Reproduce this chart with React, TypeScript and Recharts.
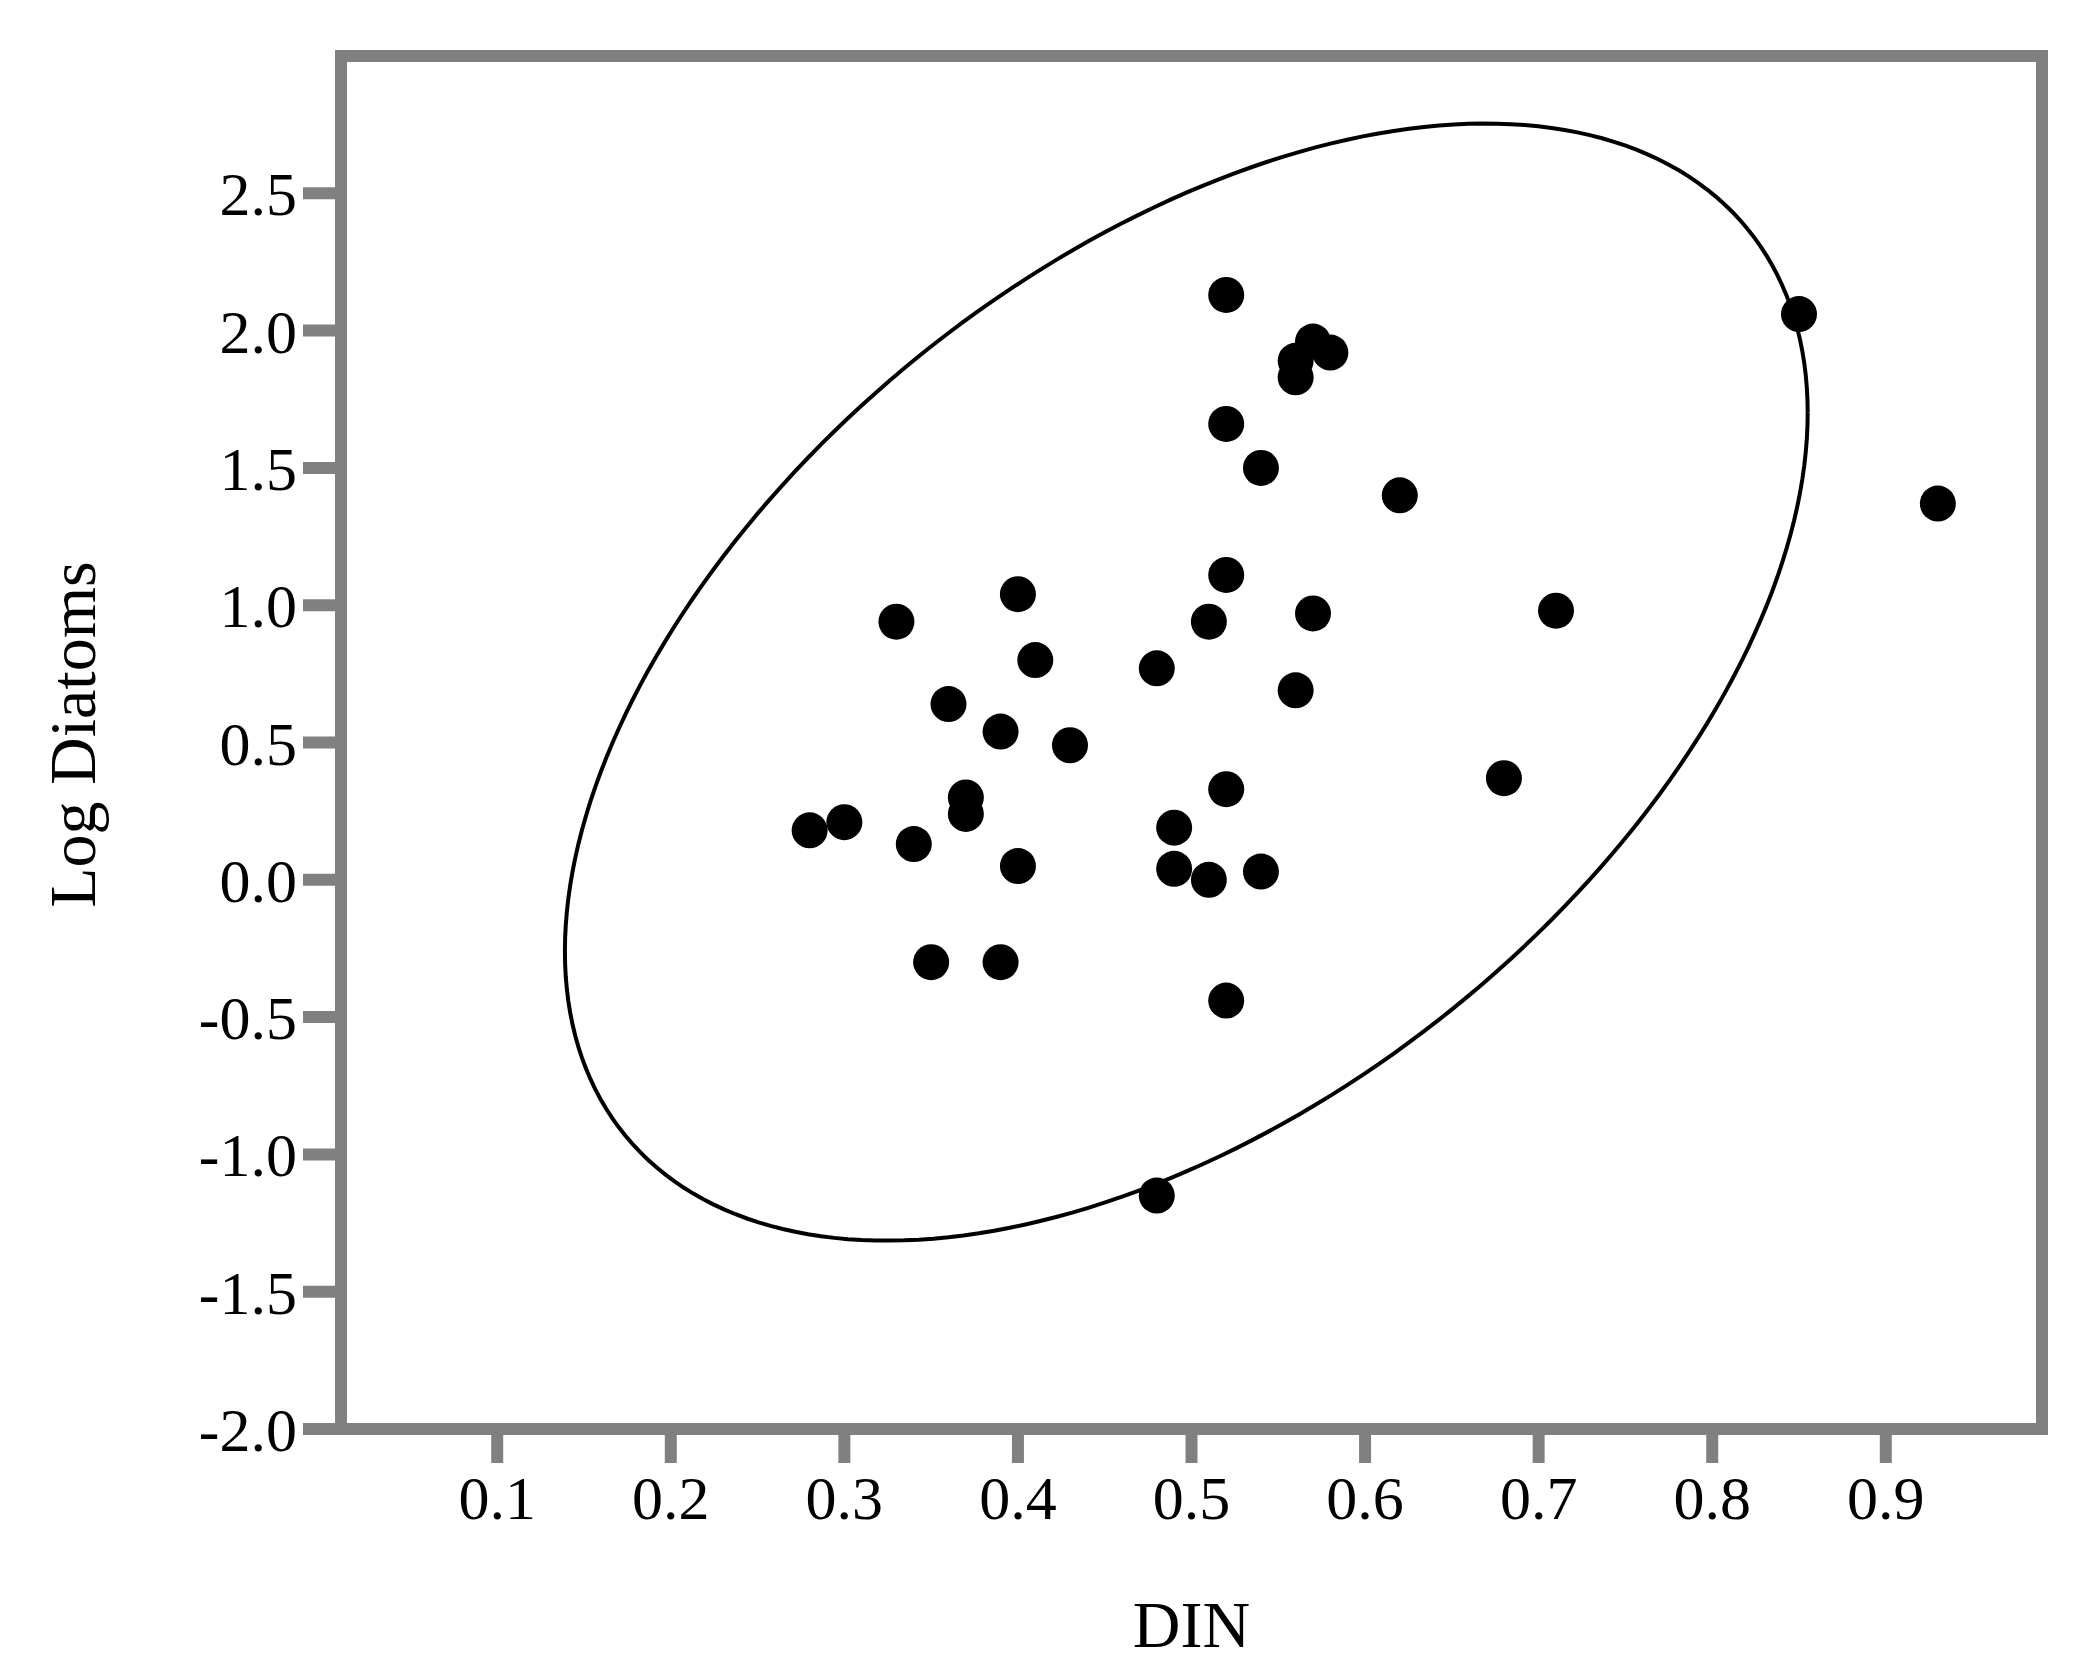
import React from "react";
import { ScatterChart, Scatter, XAxis, YAxis, ReferenceArea } from "recharts";

// DIN vs log diatoms, one entry per station
const DIN = [0.52, 0.85, 0.56, 0.57, 0.58, 0.56, 0.52, 0.54, 0.62, 0.93, 0.52, 0.40, 0.33, 0.51, 0.57, 0.71, 0.41, 0.48, 0.36, 0.56, 0.39, 0.43, 0.68, 0.37, 0.37, 0.52, 0.28, 0.30, 0.34, 0.49, 0.40, 0.49, 0.51, 0.54, 0.35, 0.39, 0.52, 0.48];
const LOG_DIATOMS = [2.13, 2.06, 1.89, 1.96, 1.92, 1.83, 1.66, 1.50, 1.40, 1.37, 1.11, 1.04, 0.94, 0.94, 0.97, 0.98, 0.80, 0.77, 0.64, 0.69, 0.54, 0.49, 0.37, 0.30, 0.24, 0.33, 0.18, 0.21, 0.13, 0.19, 0.05, 0.04, 0.00, 0.03, -0.30, -0.30, -0.44, -1.15];

const X_TICKS = [0.1, 0.2, 0.3, 0.4, 0.5, 0.6, 0.7, 0.8, 0.9];
const Y_TICKS = [-2.0, -1.5, -1.0, -0.5, 0.0, 0.5, 1.0, 1.5, 2.0, 2.5];
const X_DOMAIN = [0.01, 0.99];
const Y_DOMAIN = [-2, 3];

// confidence ellipse (data units)
const ELLIPSE_CENTER = [0.497, 0.72];
const ELLIPSE_HALF = [0.358, 2.034];
const ELLIPSE_COUPLING = 0.482;

const points = DIN.map((x, i) => ({ x, y: LOG_DIATOMS[i] }));

const delta = Math.acos(ELLIPSE_COUPLING);
const ellipse = Array.from({ length: 241 }, (_, i) => {
  const t = (i / 240) * Math.PI * 2;
  return {
    x: ELLIPSE_CENTER[0] + ELLIPSE_HALF[0] * Math.cos(t),
    y: ELLIPSE_CENTER[1] + ELLIPSE_HALF[1] * Math.cos(t - delta),
  };
});

const FONT = "'Liberation Serif', 'Times New Roman', serif";
const GREY = "#808080";

const Dot = (props: any) => <circle cx={props.cx} cy={props.cy} r={18} fill="#000" />;

export default function App() {
  return (
    <div style={{ width: 2086, height: 1680, background: "#fff" }}>
      <style>{"body{margin:0}"}</style>
      <ScatterChart width={2086} height={1680} margin={{ top: 56, right: 44, left: 0, bottom: 0 }}>
        <XAxis
          type="number"
          dataKey="x"
          domain={X_DOMAIN}
          ticks={X_TICKS}
          allowDataOverflow
          height={251}
          axisLine={false}
          tickLine={{ stroke: GREY, strokeWidth: 12 }}
          tickSize={34}
          tickMargin={12}
          tick={{ fill: "#000", fontSize: 62, fontFamily: FONT }}
          tickFormatter={(v: number) => v.toFixed(1)}
          label={{
            content: (p: any) => (
              <text
                x={p.viewBox.x + p.viewBox.width / 2}
                y={1647}
                textAnchor="middle"
                fontSize={66}
                fontFamily={FONT}
                fill="#000"
              >
                DIN
              </text>
            ),
          }}
        />
        <YAxis
          type="number"
          dataKey="y"
          domain={Y_DOMAIN}
          ticks={Y_TICKS}
          allowDataOverflow
          width={341}
          axisLine={false}
          tickLine={{ stroke: GREY, strokeWidth: 12 }}
          tickSize={38}
          tickMargin={6}
          tick={{ fill: "#000", fontSize: 62, fontFamily: FONT }}
          tickFormatter={(v: number) => v.toFixed(1)}
          label={{
            content: (p: any) => {
              const cy = p.viewBox.y + p.viewBox.height / 2 - 8;
              return (
                <text
                  x={72}
                  y={cy}
                  transform={`rotate(-90, 72, ${cy})`}
                  textAnchor="middle"
                  dominantBaseline="central"
                  fontSize={66}
                  fontFamily={FONT}
                  fill="#000"
                >
                  Log Diatoms
                </text>
              );
            },
          }}
        />
        <ReferenceArea
          x1={X_DOMAIN[0]}
          x2={X_DOMAIN[1]}
          y1={Y_DOMAIN[0]}
          y2={Y_DOMAIN[1]}
          fill="none"
          fillOpacity={0}
          stroke={GREY}
          strokeWidth={12}
        />
        <Scatter
          data={ellipse}
          line={{ stroke: "#000", strokeWidth: 4 }}
          lineType="joint"
          shape={() => <g />}
          isAnimationActive={false}
        />
        <Scatter data={points} shape={Dot} isAnimationActive={false} />
      </ScatterChart>
    </div>
  );
}
